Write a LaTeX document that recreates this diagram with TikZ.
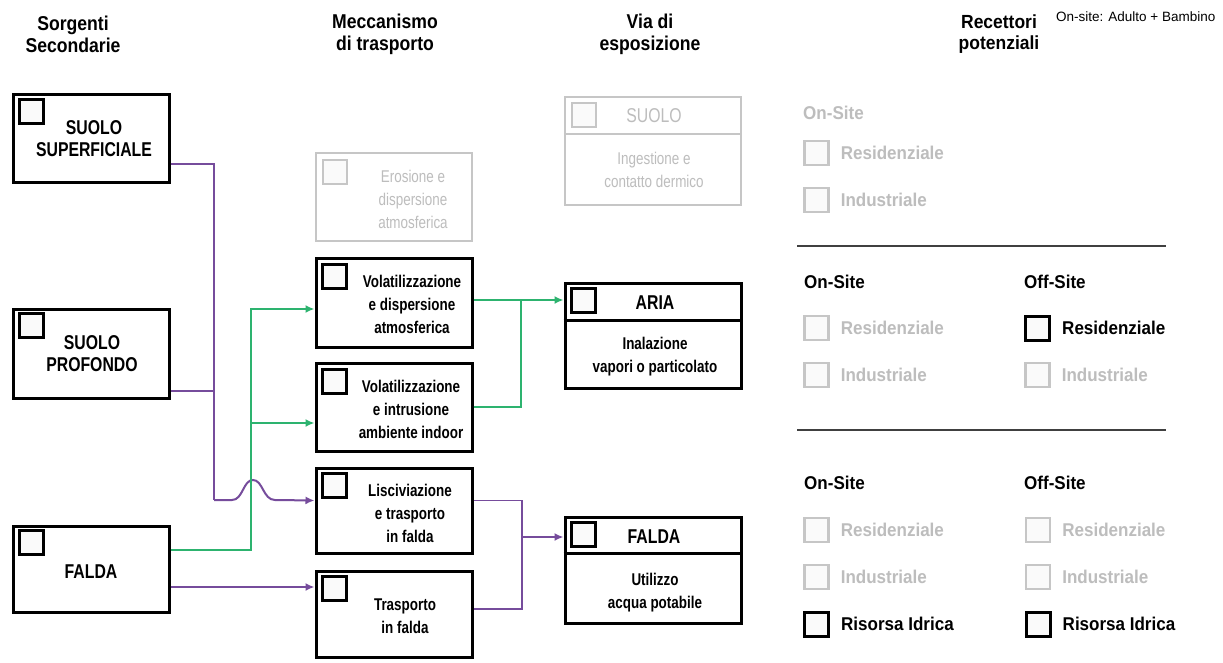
\documentclass[tikz,border=0pt]{standalone}
\usepackage{fontspec}
\setmainfont{Liberation Sans}
\newfontfamily\headfont{Liberation Sans}[FakeStretch=0.88]
\newfontfamily\condfont{Liberation Sans}[FakeStretch=0.79]
\newfontfamily\recfont{Liberation Sans}[FakeStretch=0.92]
\usetikzlibrary{arrows.meta, positioning}

\definecolor{purp}{HTML}{764C9C}
\definecolor{grn}{HTML}{2DB36F}
\definecolor{offline}{HTML}{C6C6C6}
\definecolor{offtext}{HTML}{BDBDBD}

\begin{document}
\begin{tikzpicture}[x=1pt, y=-1pt,
    box/.style={draw, line width=3pt, minimum width=156pt, minimum height=88pt, inner sep=0pt},
    viabox/.style={box, minimum width=176pt},
    offbox/.style={draw=offline, line width=2.2pt},
    chk/.style={draw, line width=3pt, fill=gray!4, minimum size=24pt, inner sep=0pt},
    offchk/.style={chk, draw=offline, line width=2.2pt},
    headtxt/.style={font=\headfont\bfseries\fontsize{20}{22}\selectfont, align=center, inner sep=0pt},
    srctxt/.style={font=\condfont\bfseries\fontsize{20}{22}\selectfont, align=center, inner sep=0pt},
    mechtxt/.style={font=\condfont\bfseries\fontsize{17}{23}\selectfont, align=center, inner sep=0pt},
    offtxt/.style={font=\condfont\fontsize{17}{23}\selectfont, text=offtext, align=center, inner sep=0pt},
    rec/.style={font=\recfont\bfseries\fontsize{18.5}{20}\selectfont, inner sep=0pt, anchor=west},
    offrec/.style={rec, text=offtext},
    pline/.style={draw=purp, line width=2pt},
    gline/.style={draw=grn, line width=2.4pt},
    arr/.style={-{Latex[length=9pt, width=8pt]}}]

    \fill[white] (0,0) rectangle (1223,663);
    \useasboundingbox (0,0) rectangle (1223,663);

    % column titles
    \node[headtxt] (h-src) at (73,34) {Sorgenti\\Secondarie};
    \node[headtxt] (h-mech) at (385,34) {Meccanismo\\di trasporto};
    \node[headtxt] (h-via) at (650,34) {Via di\\esposizione};
    \node[headtxt, font=\recfont\bfseries\fontsize{19}{21}\selectfont] (h-rec) at (999,34) {Recettori\\potenziali};
    \node[anchor=west, inner sep=0pt, font=\fontsize{13.5}{15}\selectfont] (h-note) at (1056,17) {On-site: Adulto + Bambino};

    % sorgenti secondarie
    \node[box] (ss) at (91,139) {};
    \node[chk] (ss-c) at ([xshift=20pt, yshift=-18pt]ss.north west) {};
    \node[srctxt] (ss-t) at (94,139) {SUOLO\\SUPERFICIALE};

    \node[box, minimum height=89pt] (sp) at (91,353.5) {};
    \node[chk] (sp-c) at ([xshift=20pt, yshift=-18pt]sp.north west) {};
    \node[srctxt] (sp-t) at (92,354) {SUOLO\\PROFONDO};

    \node[box, minimum height=86pt] (fa) at (91,569) {};
    \node[chk] (fa-c) at ([xshift=20pt, yshift=-18pt]fa.north west) {};
    \node[srctxt] (fa-t) at (91,572) {FALDA};

    % meccanismo di trasporto
    \node[box, offbox] (ero) at (394,197) {};
    \node[offchk] (ero-c) at ([xshift=20pt, yshift=-20pt]ero.north west) {};
    \node[offtxt] (ero-t) at (413,199) {Erosione e\\dispersione\\atmosferica};

    \node[box, minimum height=89pt] (vo1) at (394,302.5) {};
    \node[chk] (vo1-c) at ([xshift=20pt, yshift=-20pt]vo1.north west) {};
    \node[mechtxt] (vo1-t) at (412,304) {Volatilizzazione\\e dispersione\\atmosferica};

    \node[box] (vo2) at (394,407) {};
    \node[chk] (vo2-c) at ([xshift=20pt, yshift=-20pt]vo2.north west) {};
    \node[mechtxt] (vo2-t) at (411,409) {Volatilizzazione\\e intrusione\\ambiente indoor};

    \node[box, minimum height=85pt] (lis) at (394,510.5) {};
    \node[chk] (lis-c) at ([xshift=20pt, yshift=-19pt]lis.north west) {};
    \node[mechtxt] (lis-t) at (410,513) {Lisciviazione\\e trasporto\\in falda};

    \node[box, minimum height=86pt] (tr) at (394,614) {};
    \node[chk] (tr-c) at ([xshift=20pt, yshift=-19pt]tr.north west) {};
    \node[mechtxt] (tr-t) at (405,616) {Trasporto\\in falda};

    % via di esposizione
    \node[viabox, offbox, minimum height=108pt] (suo) at (653,151) {};
    \draw[offline, line width=2.2pt] ([yshift=-38pt]suo.north west) -- ([yshift=-38pt]suo.north east);
    \node[offchk] (suo-c) at ([xshift=20pt, yshift=-19pt]suo.north west) {};
    \node[offtxt, font=\condfont\fontsize{20}{22}\selectfont] (suo-t) at (654,116) {SUOLO};
    \node[offtxt] (suo-d) at (654,170) {Ingestione e\\contatto dermico};

    \node[viabox, minimum height=105pt] (aria) at (653,335.5) {};
    \draw[line width=3pt] ([yshift=-39pt]aria.north west) -- ([yshift=-39pt]aria.north east);
    \node[chk] (aria-c) at ([xshift=20pt, yshift=-19pt]aria.north west) {};
    \node[srctxt] (aria-t) at (655,303) {ARIA};
    \node[mechtxt] (aria-d) at (655,357) {Inalazione\\vapori o particolato};

    \node[viabox, minimum height=106pt] (fa2) at (653,570) {};
    \draw[line width=3pt] ([yshift=-38pt]fa2.north west) -- ([yshift=-38pt]fa2.north east);
    \node[chk] (fa2-c) at ([xshift=20pt, yshift=-19pt]fa2.north west) {};
    \node[srctxt] (fa2-t) at (654,537) {FALDA};
    \node[mechtxt] (fa2-d) at (655,593) {Utilizzo\\acqua potabile};

    % connectors
    \coordinate (jp) at (214,500);
    \draw[pline] ([yshift=-25pt]ss.east) -| (jp);
    \draw[pline] ([yshift=-37pt]sp.east) -| (jp);
    \draw[pline, arr] (jp) -- (232,500) .. controls (243,500) and (243,480) .. (253,480)
        .. controls (263,480) and (263,500) .. (275,500) -- ([yshift=10pt]lis.west);
    \draw[pline, arr] ([yshift=-18pt]fa.east) -- ([yshift=-18pt]fa.east -| tr.west);

    \coordinate (gx) at (251,309);
    \coordinate (gy) at (251,423);
    \draw[gline, arr] ([yshift=19pt]fa.east) -| (gx) -- (gx -| vo1.west);
    \draw[gline, arr] (gy) -- (gy -| vo2.west);

    \coordinate (aj) at (521,300);
    \draw[gline, arr] (vo1.east |- aj) -- (aj -| aria.west);
    \draw[gline] (vo2.east) -| (aj);

    \coordinate (fj) at (522,537);
    \draw[pline, line width=1.6pt] ([yshift=10pt]lis.east) -| (fj) |- ([yshift=5pt]tr.east);
    \draw[pline, arr] (fj) -- (fj -| fa2.west);

    % recettori potenziali
    \node[offrec] (r0-on) at (803,113) {On-Site};
    \foreach \y/\txt [count=\i] in {153/Residenziale, 200/Industriale} {
        \node[offchk] (r0-c\i) at (816.5,\y) {};
        \node[offrec, right=11pt of r0-c\i] (r0-l\i) {\txt};
    }
    \draw[line width=1.2pt, black!75] (797,246) -- (1166,246);

    \node[rec] (r1-on) at (804,282) {On-Site};
    \node[rec] (r1-off) at (1024,282) {Off-Site};
    \foreach \y/\txt/\ca/\la/\cb/\lb [count=\i] in {328/Residenziale/offchk/offrec/chk/rec,
                                                    375/Industriale/offchk/offrec/offchk/offrec} {
        \node[\ca] (r1-c\i) at (816.5,\y) {};
        \node[\la, right=11pt of r1-c\i] (r1-l\i) {\txt};
        \node[\cb] (r1-d\i) at (1037.5,\y) {};
        \node[\lb, right=11pt of r1-d\i] (r1-m\i) {\txt};
    }
    \draw[line width=1.2pt, black!75] (797,430) -- (1166,430);

    \node[rec] (r2-on) at (804,483) {On-Site};
    \node[rec] (r2-off) at (1024,483) {Off-Site};
    \foreach \y/\txt/\cs/\ls [count=\i] in {530/Residenziale/offchk/offrec,
                                          577/Industriale/offchk/offrec,
                                          624/Risorsa Idrica/chk/rec} {
        \node[\cs] (r2-c\i) at (816.5,\y) {};
        \node[\ls, right=11pt of r2-c\i] (r2-l\i) {\txt};
        \node[\cs] (r2-d\i) at (1038,\y) {};
        \node[\ls, right=11pt of r2-d\i] (r2-m\i) {\txt};
    }
\end{tikzpicture}
\end{document}
